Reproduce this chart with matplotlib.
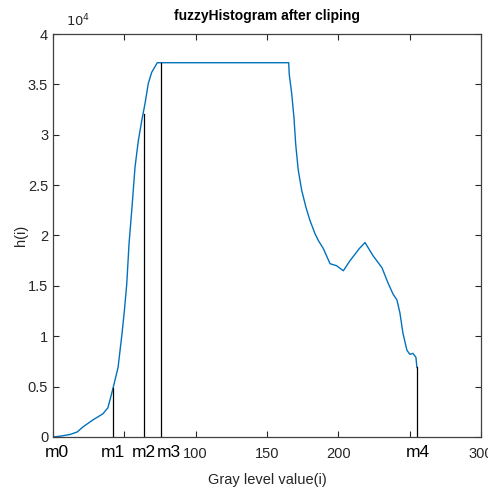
import numpy as np
import matplotlib
matplotlib.use('Agg')
import matplotlib.pyplot as plt

plt.rcParams['font.family'] = ['Liberation Sans', 'DejaVu Sans']

# Histogramo apos o recorte (em unidades de 1e4)
gray = [0, 3, 6, 12, 17, 21, 28, 35, 38.5, 42, 45.6, 48.4, 50.0, 51.7, 53.3,
        55.2, 57.5, 59.8, 62.2, 64.5, 66.8, 69.2, 73.1, 165.2, 165.6, 167.3,
        168.9, 170.1, 171.9, 174.3, 177.3, 180.1, 183.6, 186.0, 189.5, 194.2,
        198.8, 203.5, 208.2, 214.7, 218.7, 224.3, 230.6, 234.8, 238.3, 241.1,
        243.2, 245.3, 248.1, 250.2, 252.3, 254.4, 255.1]
hist = [0.0, 0.005, 0.01, 0.025, 0.05, 0.10, 0.17, 0.23, 0.29, 0.48, 0.69,
        1.03, 1.25, 1.52, 1.92, 2.25, 2.68, 2.94, 3.14, 3.31, 3.51, 3.62,
        3.715, 3.715, 3.60, 3.41, 3.17, 2.91, 2.65, 2.45, 2.28, 2.15, 2.02,
        1.95, 1.87, 1.72, 1.70, 1.65, 1.75, 1.87, 1.93, 1.80, 1.68, 1.53,
        1.42, 1.36, 1.23, 1.03, 0.86, 0.82, 0.83, 0.79, 0.69]

# Pontos m1..m4 e altura das linhas verticais
m_pos = [42, 64, 76, 255]
m_alt = [0.49, 3.21, 3.715, 0.69]
m_nomes = ['m0', 'm1', 'm2', 'm3', 'm4']
m_texto_x = [3, 42, 64, 81, 256]

escala = 1e4
h = np.array(hist) * escala

fig = plt.figure(figsize=(4.89, 4.90), dpi=100)
ax = fig.add_axes([0.1084, 0.1082, 0.8752, 0.8224])

ax.plot(gray, h, color='#0072BD', linewidth=1.0)
for xm, ym in zip(m_pos, m_alt):
    ax.plot([xm, xm], [0, ym * escala], color='black', linewidth=0.9)

ax.set_xlim(0, 300)
ax.set_ylim(0, 4e4)
ax.set_xticks(np.arange(0, 301, 50))
ax.set_xticklabels(['', '', '100', '150', '200', '', '300'])
yt = np.arange(0, 4.01, 0.5)
ax.set_yticks(yt * escala)
ax.set_yticklabels(['0', '0.5', '1', '1.5', '2', '2.5', '3', '3.5', '4'])

cinza = '#262626'
ax.tick_params(direction='in', top=True, right=True, length=4, width=0.8,
               colors=cinza, labelsize=10.5)
ax.tick_params(axis='x', pad=7)
for s in ax.spines.values():
    s.set_color('#404040')
    s.set_linewidth(0.9)

for nome, xt in zip(m_nomes, m_texto_x):
    ax.text(xt, -0.038, nome, transform=ax.get_xaxis_transform(),
            ha='center', va='center', fontsize=12.5, color='black')

ax.text(0.03, 1.012, r'$10^4$', transform=ax.transAxes, fontsize=9.5,
        color=cinza, ha='left', va='bottom')

ax.set_title('fuzzyHistogram after cliping', fontsize=10, fontweight='bold',
             pad=10)
ax.set_xlabel('Gray level value(i)', fontsize=10.5, color=cinza, labelpad=9)
ax.set_ylabel('h(i)', fontsize=10.5, color=cinza, labelpad=0)

fig.savefig('out.png', dpi=100)
